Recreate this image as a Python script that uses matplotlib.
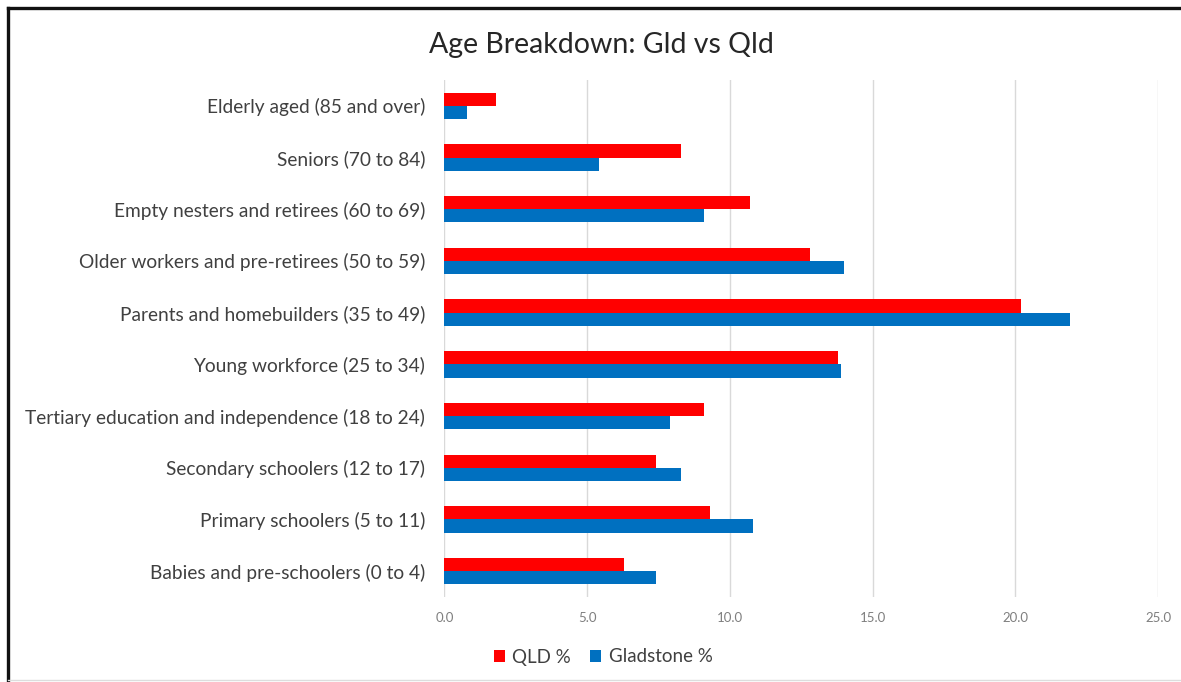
import matplotlib
matplotlib.use("Agg")
import matplotlib.pyplot as plt
from matplotlib.lines import Line2D
import numpy as np

categories = [
    "Babies and pre-schoolers (0 to 4)",
    "Primary schoolers (5 to 11)",
    "Secondary schoolers (12 to 17)",
    "Tertiary education and independence (18 to 24)",
    "Young workforce (25 to 34)",
    "Parents and homebuilders (35 to 49)",
    "Older workers and pre-retirees (50 to 59)",
    "Empty nesters and retirees (60 to 69)",
    "Seniors (70 to 84)",
    "Elderly aged (85 and over)",
]
qld = [6.3, 9.3, 7.4, 9.1, 13.8, 20.2, 12.8, 10.7, 8.3, 1.8]
gladstone = [7.4, 10.8, 8.3, 7.9, 13.9, 21.9, 14.0, 9.1, 5.4, 0.8]
xticks = [0, 5, 10, 15, 20, 25]
series_names = ["QLD %", "Gladstone %"]

plt.rcParams['font.family'] = ['Lato', 'DejaVu Sans']

fig = plt.figure(figsize=(11.81, 6.82), dpi=100)
ax = fig.add_axes([444.5/1181, 1-597/682, (1158-444.5)/1181, (597-80)/682])

y = np.arange(len(categories))
h = 0.255
ax.barh(y + h/2, qld, height=h, color="#FF0000", label=series_names[0], zorder=3)
ax.barh(y - h/2, gladstone, height=h, color="#0070C0", label=series_names[1], zorder=3)

ax.set_xlim(0, 25)
ax.set_ylim(-0.5, len(categories) - 0.5)
ax.set_xticks(xticks)
ax.set_xticklabels([f"{v:.1f}" for v in xticks], fontsize=9.5, color="#7f7f7f")
ax.set_yticks(y)
ax.set_yticklabels(categories, fontsize=13.8, color="#404040")
ax.tick_params(axis='both', length=0)
ax.tick_params(axis='x', pad=11)
ax.tick_params(axis='y', pad=14)
for s in ax.spines.values():
    s.set_visible(False)
ax.grid(axis='x', color="#d9d9d9", linewidth=1, zorder=0)

fig.text(601/1181, 1-45/682, "Age Breakdown: Gld vs Qld", ha='center', va='center',
         fontsize=20.5, color="#262626")

fig.legend(loc='center', bbox_to_anchor=(603/1181, 1-657/682), ncol=2, frameon=False,
           fontsize=13.5, handlelength=0.6, handleheight=0.6, handletextpad=0.4,
           columnspacing=1.0, labelcolor="#404040")

# screenshot border
fig.add_artist(Line2D([8/1181, 1], [1-8/682, 1-8/682], color="#111111", linewidth=2.4,
                      transform=fig.transFigure))
fig.add_artist(Line2D([8/1181, 8/1181], [0, 1-8/682], color="#111111", linewidth=2.4,
                      transform=fig.transFigure))
fig.add_artist(Line2D([8/1181, 1], [1-680/682, 1-680/682], color="#dddddd", linewidth=1,
                      transform=fig.transFigure))

fig.savefig("out.png", dpi=100)
